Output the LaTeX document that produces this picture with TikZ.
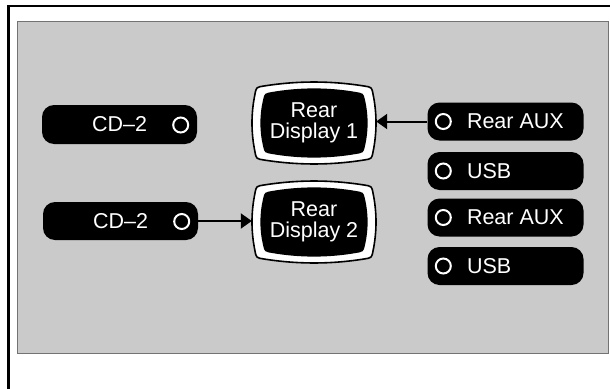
\documentclass[tikz,border=0pt]{standalone}
\usepackage{fontspec}
\setmainfont{Liberation Sans}
\usetikzlibrary{arrows.meta,calc}
\definecolor{bggray}{RGB}{202,202,202}
\begin{document}
\begin{tikzpicture}[x=1pt,y=-1pt,
  txt/.style={font=\fontsize{21.5}{21.5}\selectfont},
  pill/.style={rectangle, rounded corners=12pt, fill=black, minimum width=156pt,
    minimum height=38pt, inner sep=0pt, text=white, txt},
  lbl/.style={text=white, inner sep=0pt, txt},
  ring/.style={circle, draw=white, line width=2pt, minimum size=15pt, inner sep=0pt},
  disp/.style={rectangle, minimum width=124pt, minimum height=82pt, inner sep=0pt,
    text=white, align=center, txt},
  link/.style={line width=2pt, -{Triangle[length=11pt,width=15pt]}},
  tvscreen/.pic={
    \filldraw[fill=white, draw=black, line width=1.6pt]
      (-50,-37) .. controls (-16.7,-42.3) and (16.7,-42.3) .. (50,-37)
      .. controls (57.7,-35.8) .. (59,-29)
      .. controls (63,-9.7) and (63,9.7) .. (59,29)
      .. controls (57.7,35.8) .. (50,37)
      .. controls (16.7,42.3) and (-16.7,42.3) .. (-50,37)
      .. controls (-57.7,35.8) .. (-59,29)
      .. controls (-63,9.7) and (-63,-9.7) .. (-59,-29)
      .. controls (-57.7,-35.8) .. (-50,-37) -- cycle;
    \fill[black]
      (-42,-31) .. controls (-14,-35.8) and (14,-35.8) .. (42,-31)
      .. controls (49.5,-29.7) .. (51,-23)
      .. controls (54.5,-7.7) and (54.5,7.7) .. (51,23)
      .. controls (49.5,29.7) .. (42,31)
      .. controls (14,35.8) and (-14,35.8) .. (-42,31)
      .. controls (-49.5,29.7) .. (-51,23)
      .. controls (-54.5,7.7) and (-54.5,-7.7) .. (-51,-23)
      .. controls (-49.5,-29.7) .. (-42,-31) -- cycle;
  }]
\useasboundingbox (0,0) rectangle (610,388);
% frame
\draw[line width=2.6pt, line join=miter] (611,6) -- (8.5,6) -- (8.5,390);
\filldraw[fill=bggray, draw=black!55, line width=0.8pt] (17,21) rectangle (608,353);

% displays
\coordinate (c1) at (314,123);
\coordinate (c2) at (314,222);
\pic at (c1) {tvscreen};
\pic at (c2) {tvscreen};
\node[disp] (d1) at (c1) {Rear\\Display 1};
\node[disp] (d2) at (c2) {Rear\\Display 2};

% left boxes
\node[pill, minimum width=155pt, minimum height=39pt] (cd1) at (119.5,124.5) {CD–2};
\node[pill, minimum width=155pt] (cd2) at (120.5,221) {CD–2};
\node[ring] (r1) at ($(cd1.east)+(-16.5,0.5)$) {};
\node[ring] (r2) at ($(cd2.east)+(-16.5,0.5)$) {};

% right boxes
\node[pill] (aux1) at (505.5,121.5) {};
\node[pill] (usb1) at (505.5,171) {};
\node[pill] (aux2) at (505.5,217.5) {};
\node[pill] (usb2) at (505.5,266) {};
\foreach \b/\t in {aux1/Rear AUX, usb1/USB, aux2/Rear AUX, usb2/USB}{
  \node[ring] (\b-r) at ($(\b.west)+(16,0)$) {};
  \node[lbl, anchor=west] (\b-t) at ($(\b.west)+(39.5,0)$) {\t};
}

% connectors
\draw[link] (aux1.west) -- (aux1.west -| d1.east);
\draw[link] (cd2.east) -- (cd2.east -| d2.west);
\end{tikzpicture}
\end{document}
